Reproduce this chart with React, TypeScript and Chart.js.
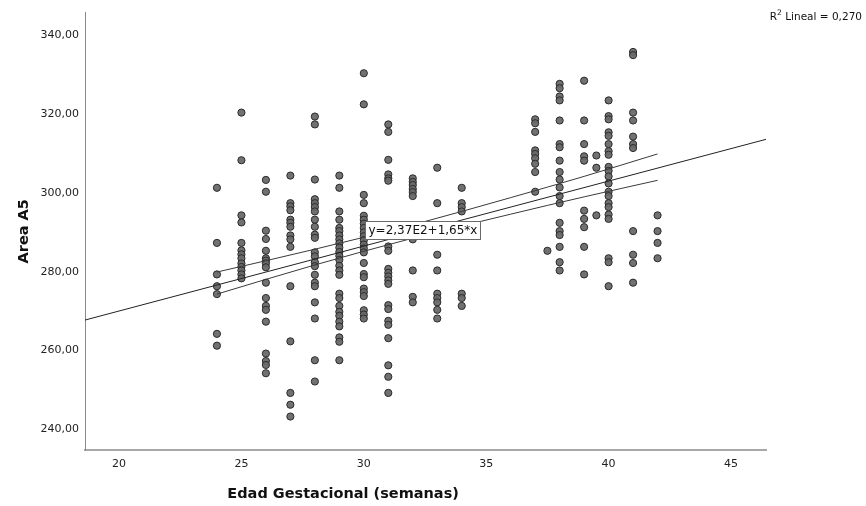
import { useEffect, useRef } from 'react';
import { Chart, registerables } from 'chart.js';

Chart.register(...registerables);

// ---- data ----
const weeks = [24, 25, 26, 27, 28, 29, 30, 31, 32, 33, 34, 37, 37.5, 38, 39, 39.5, 40, 41, 42];
const areaByWeek = [
  [301.3, 287.3, 279.3, 276.3, 274.3, 264.2, 261.2],
  [320.4, 308.3, 294.3, 292.5, 287.3, 285.4, 284.4, 283.4, 282.1, 281.2, 280.3, 279.3, 278.3],
  [303.3, 300.3, 290.4, 288.3, 285.3, 283.4, 282.8, 282.1, 281.1, 277.2, 273.3, 271.3, 270.3, 267.3, 259.2, 257.3, 256.3, 254.2],
  [304.4, 297.4, 296.6, 295.6, 293.2, 292.4, 291.4, 289.2, 288.2, 286.3, 276.3, 262.3, 249.2, 246.2, 243.2],
  [319.4, 317.4, 303.4, 298.4, 297.4, 296.4, 295.3, 293.2, 291.4, 289.4, 288.6, 284.9, 283.9, 282.4, 281.4, 279.2, 277.2, 276.3, 272.2, 268.1, 257.5, 252.1],
  [304.4, 301.3, 295.3, 293.2, 291.1, 290.3, 289.2, 288.2, 287.2, 286.1, 285.0, 284.0, 283.0, 281.5, 280.3, 279.2, 274.4, 273.3, 271.3, 269.8, 268.8, 267.3, 266.1, 263.3, 262.2, 257.5],
  [330.4, 322.5, 299.5, 297.4, 294.2, 293.2, 292.2, 291.1, 290.0, 289.0, 288.0, 286.9, 285.9, 284.9, 282.2, 279.4, 278.6, 275.7, 274.8, 273.8, 270.2, 269.1, 268.1],
  [317.4, 315.5, 308.4, 304.7, 303.7, 303.1, 286.4, 285.3, 280.7, 279.7, 278.8, 277.8, 276.9, 271.5, 270.5, 267.5, 266.5, 263.1, 256.2, 253.3, 249.2],
  [303.7, 302.8, 302.0, 301.0, 300.2, 299.2, 288.2, 280.3, 273.6, 272.2],
  [306.4, 297.4, 284.3, 280.3, 274.4, 273.3, 272.2, 270.3, 268.1],
  [301.3, 297.4, 296.4, 295.3, 274.4, 273.3, 271.3],
  [318.7, 317.7, 315.5, 310.8, 309.9, 308.8, 307.4, 305.3, 300.3],
  [285.3],
  [327.7, 326.6, 324.5, 323.5, 318.4, 312.4, 311.6, 308.2, 305.3, 303.4, 301.4, 299.2, 297.4, 292.4, 290.3, 289.3, 286.3, 282.4, 280.3],
  [328.5, 318.4, 312.4, 309.3, 308.2, 295.5, 293.4, 291.3, 286.3, 279.3],
  [309.5, 306.4, 294.3],
  [323.5, 319.5, 318.7, 315.4, 314.5, 312.4, 310.6, 309.7, 306.6, 305.6, 304.2, 302.4, 300.3, 299.2, 297.4, 296.4, 294.5, 293.4, 283.4, 282.4, 276.3],
  [335.8, 335.0, 320.4, 318.4, 314.3, 312.4, 311.4, 290.3, 284.3, 282.2, 277.2],
  [294.3, 290.3, 287.3, 283.4],
];

const regIntercept = 237;
const regSlope = 1.65;
const ciWeeks = [24, 28, 32, 36, 39, 42];
const ciUpper = [279.9, 285.7, 291.9, 298.8, 304.2, 309.9];
const ciLower = [274.3, 281.7, 288.5, 294.6, 299.0, 303.2];

const xMin = 18.61;
const xMax = 46.43;
const yMin = 234.7;
const yMax = 345.8;

const xTitle = 'Edad Gestacional (semanas)';
const yTitle = 'Area A5';
const eqText = 'y=2,37E2+1,65*x';
const eqAnchor = [30.05, 292.9];
const r2Text = 'Lineal = 0,270';

const FONT = '"DejaVu Sans", sans-serif';

const textPlugin = {
  id: 'spssText',
  afterDatasetsDraw(chart: any) {
    const { ctx, scales } = chart;
    const x = scales.x;
    const y = scales.y;
    ctx.save();
    ctx.font = `12px ${FONT}`;
    const bx = Math.round(x.getPixelForValue(eqAnchor[0])) + 0.5;
    const by = Math.round(y.getPixelForValue(eqAnchor[1])) + 0.5;
    const w = Math.round(ctx.measureText(eqText).width + 6);
    ctx.fillStyle = '#ffffff';
    ctx.fillRect(bx, by, w, 18);
    ctx.strokeStyle = '#6a6a6a';
    ctx.lineWidth = 1;
    ctx.strokeRect(bx, by, w, 18);
    ctx.fillStyle = '#111';
    ctx.textBaseline = 'middle';
    ctx.textAlign = 'left';
    ctx.fillText(eqText, bx + 3, by + 9.5);
    ctx.restore();
  },
  afterDraw(chart: any) {
    const { ctx, chartArea } = chart;
    ctx.save();
    ctx.fillStyle = '#111';
    // y title
    ctx.font = `bold 14.5px ${FONT}`;
    ctx.textAlign = 'center';
    ctx.textBaseline = 'middle';
    ctx.save();
    ctx.translate(24, (chartArea.top + chartArea.bottom) / 2);
    ctx.rotate(-Math.PI / 2);
    ctx.fillText(yTitle, 0, 0);
    ctx.restore();
    // x title
    ctx.fillText(xTitle, chartArea.left + (chartArea.right - chartArea.left) * 0.379, 494);
    // R2 text
    ctx.textAlign = 'left';
    ctx.textBaseline = 'alphabetic';
    ctx.font = `10.5px ${FONT}`;
    const restW = ctx.measureText(' ' + r2Text).width;
    const rW = ctx.measureText('R').width;
    ctx.font = `7.5px ${FONT}`;
    const supW = ctx.measureText('2').width;
    const right = 862;
    const start = right - restW - supW - rW;
    ctx.font = `10.5px ${FONT}`;
    ctx.fillText('R', start, 20);
    ctx.font = `7.5px ${FONT}`;
    ctx.fillText('2', start + rW, 15);
    ctx.font = `10.5px ${FONT}`;
    ctx.fillText(' ' + r2Text, start + rW + supW, 20);
    ctx.restore();
  },
};

export default function App() {
  const ref = useRef<HTMLCanvasElement | null>(null);

  useEffect(() => {
    if (!ref.current) return;
    const points = weeks.flatMap((w, i) => areaByWeek[i].map((v) => ({ x: w, y: v })));
    const regLine = [xMin, xMax].map((v) => ({ x: v, y: regIntercept + regSlope * v }));
    const up = ciWeeks.map((w, i) => ({ x: w, y: ciUpper[i] }));
    const lo = ciWeeks.map((w, i) => ({ x: w, y: ciLower[i] }));

    const lineDs = (data: any[], color: string) => ({
      type: 'line' as const,
      data,
      borderColor: color,
      borderWidth: 1,
      pointRadius: 0,
      fill: false,
      tension: 0.4,
      cubicInterpolationMode: 'monotone' as const,
    });

    const chart = new Chart(ref.current, {
      type: 'scatter',
      data: {
        datasets: [
          lineDs(regLine, '#222222'),
          lineDs(up, '#3a3a3a'),
          lineDs(lo, '#3a3a3a'),
          {
            type: 'scatter',
            data: points,
            backgroundColor: 'rgba(105,105,105,0.95)',
            borderColor: '#2a2a2a',
            borderWidth: 1,
            pointRadius: 3.6,
          },
        ],
      },
      options: {
        animation: false,
        responsive: false,
        devicePixelRatio: 1,
        layout: { padding: { top: 7, right: 100, left: 0, bottom: 0 } },
        plugins: { legend: { display: false }, tooltip: { enabled: false } },
        scales: {
          x: {
            type: 'linear',
            min: xMin,
            max: xMax,
            afterFit: (s: any) => {
              s.height = 56;
            },
            grid: { display: false, drawTicks: false },
            border: { display: true, color: '#a8a8a8', width: 2 },
            ticks: {
              stepSize: 5,
              includeBounds: false,
              padding: 8,
              color: '#222',
              font: { family: FONT, size: 11 },
              maxRotation: 0,
              callback: (v: any) => String(v),
            },
          },
          y: {
            type: 'linear',
            min: yMin,
            max: yMax,
            afterFit: (s: any) => {
              s.width = 85;
            },
            grid: { display: false, drawTicks: false },
            border: { display: true, color: '#8a8a8a', width: 1 },
            ticks: {
              stepSize: 20,
              includeBounds: false,
              padding: 6,
              color: '#222',
              font: { family: FONT, size: 11 },
              callback: (v: any) => Number(v).toFixed(2).replace('.', ','),
            },
          },
        },
      },
      plugins: [textPlugin],
    });
    return () => chart.destroy();
  }, []);

  return (
    <div style={{ position: 'absolute', left: 0, top: 0, width: 866, height: 506, background: '#fff' }}>
      <canvas ref={ref} width={866} height={506} style={{ width: 866, height: 506, display: 'block' }} />
    </div>
  );
}
